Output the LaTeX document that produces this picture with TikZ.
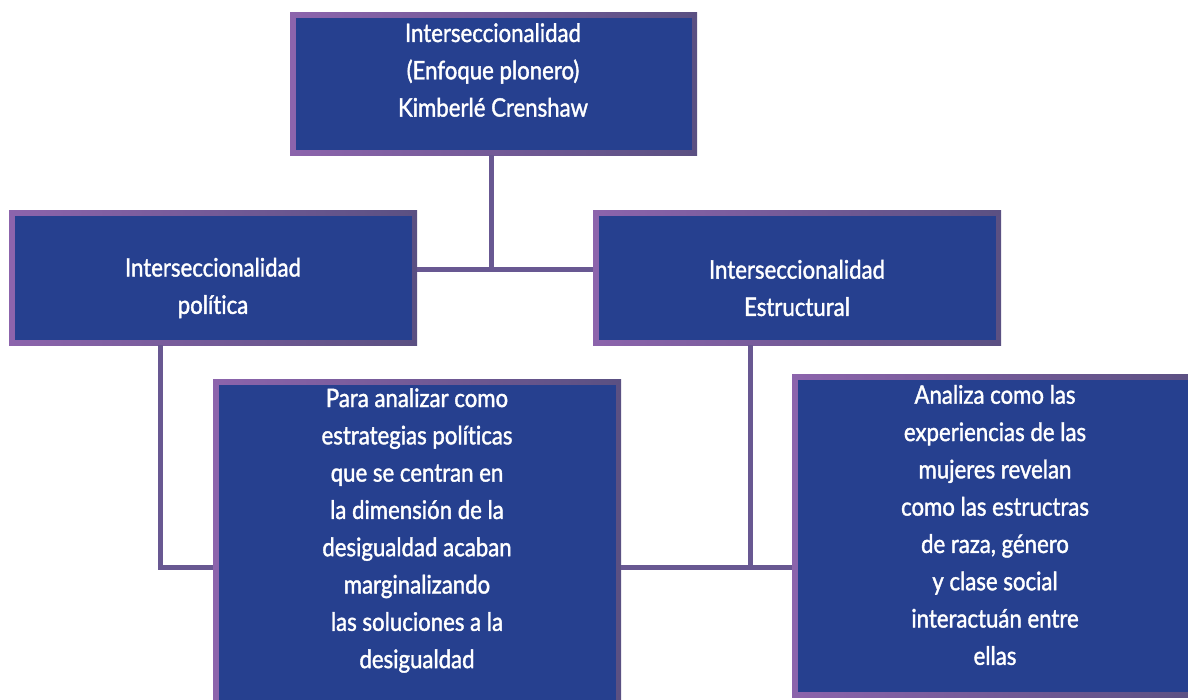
\documentclass[tikz,border=0pt]{standalone}
\usepackage{fontspec}
\setmainfont{Lato}[FakeStretch=0.87, FakeBold=1.5, Ligatures=NoCommon]
\definecolor{boxblue}{RGB}{38,64,143}
\definecolor{purpL}{RGB}{140,100,172}
\definecolor{purpR}{RGB}{90,80,130}
\definecolor{linec}{RGB}{104,88,146}
\begin{document}
\begin{tikzpicture}[x=1pt,y=-1pt,
  box/.style={anchor=north west, inner sep=0pt, left color=purpL, right color=purpR, draw=none,
    path picture={\fill[boxblue] ([shift={(5.5pt,5.5pt)}]path picture bounding box.south west)
      rectangle ([shift={(-5.5pt,-5.5pt)}]path picture bounding box.north east);}},
  txt/.style={text=white, align=center, inner sep=0pt, font=\fontsize{25.5}{37.3}\selectfont},
  conn/.style={draw=linec, line width=5pt}]
\useasboundingbox (0,0) rectangle (1188,700);
\clip (0,0) rectangle (1188,700);
% boxes
\node[box, minimum width=407pt, minimum height=143pt] (top) at (290,12) {};
\node[box, minimum width=408pt, minimum height=135pt] (pol) at (9,210) {};
\node[box, minimum width=408pt, minimum height=135pt] (est) at (593,210) {};
\node[box, minimum width=408pt, minimum height=345pt] (pa) at (213,379) {};
\node[box, minimum width=410pt, minimum height=323pt] (an) at (792,374) {};
% connector points
\coordinate (j1) at (491.5,269.5);
\coordinate (c1) at (160,567);
\coordinate (c2) at (750,567);
% connectors
\draw[conn] (top.south -| j1) -- (j1);
\draw[conn] (pol.east |- j1) -- (est.west |- j1);
\draw[conn] (pol.south -| c1) -- (c1) -- (pa.west |- c1);
\draw[conn] (est.south -| c2) -- (c2);
\draw[conn] (pa.east |- c2) -- (an.west |- c2);
% texts
\node[txt] (topt) at (493,70) {Interseccionalidad\\(Enfoque plonero)\\Kimberlé Crenshaw};
\node[txt] (polt) at (213,288) {Interseccionalidad\\política};
\node[txt] (estt) at (797,288) {Interseccionalidad\\Estructural};
\node[txt] (pat) at (417,530.5) {Para analizar como\\estrategias políticas\\que se centran en\\la dimensión de la\\desigualdad acaban\\marginalizando\\las soluciones a la\\desigualdad};
\node[txt] (ant) at (995,525) {Analiza como las\\experiencias de las\\mujeres revelan\\como las estructras\\de raza, género\\y clase social\\interactuán entre\\ellas};
\end{tikzpicture}
\end{document}
